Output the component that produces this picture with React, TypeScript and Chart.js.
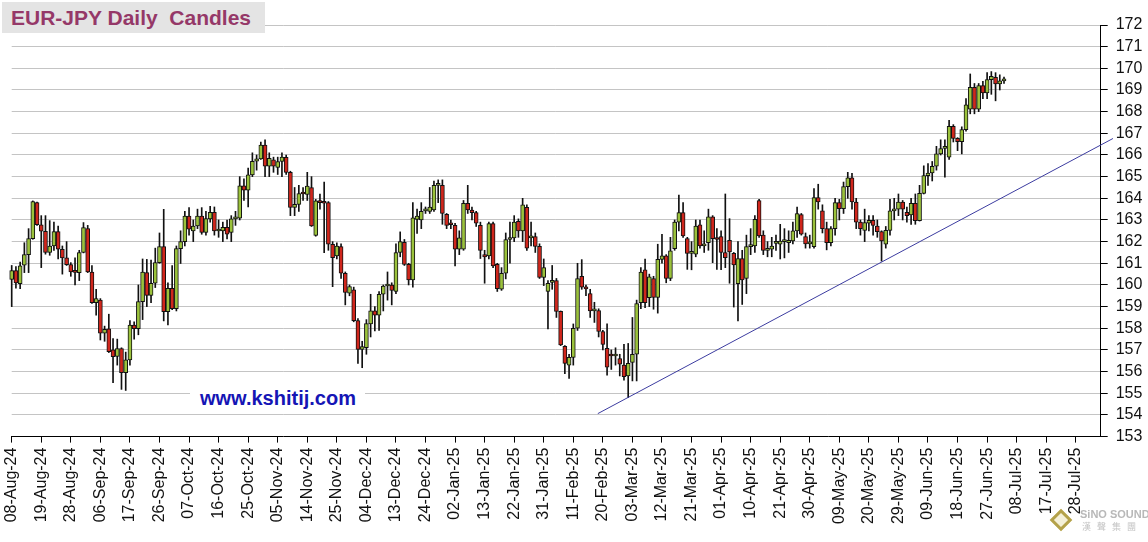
import React, { useEffect, useRef } from 'react';
import { Chart, registerables } from 'chart.js';
Chart.register(...registerables);

const tickLabels = ['08-Aug-24','19-Aug-24','28-Aug-24','06-Sep-24','17-Sep-24','26-Sep-24','07-Oct-24','16-Oct-24','25-Oct-24','05-Nov-24','14-Nov-24','25-Nov-24','04-Dec-24','13-Dec-24','24-Dec-24','02-Jan-25','13-Jan-25','22-Jan-25','31-Jan-25','11-Feb-25','20-Feb-25','03-Mar-25','12-Mar-25','21-Mar-25','01-Apr-25','10-Apr-25','21-Apr-25','30-Apr-25','09-May-25','20-May-25','29-May-25','09-Jun-25','18-Jun-25','27-Jun-25','08-Jul-25','17-Jul-25','28-Jul-25'];

const opens = [
160.26,160.66,160.06,160.91,161.4,162.14,163.8,162.78,162.48,161.5,
161.8,162.46,161.65,161.25,160.94,160.6,160.57,161.5,162.6,160.6,
159.18,159.3,157.77,157.98,157.0,156.7,157.06,155.95,156.54,158.15,
157.98,159.23,160.57,159.52,160.08,161.03,161.77,158.77,159.85,158.9,
161.68,162.0,163.18,162.5,162.72,163.18,162.42,163.05,163.35,162.49,
162.49,162.66,162.43,163.05,163.08,164.58,164.38,165.08,165.71,165.82,
166.46,165.48,165.78,165.43,165.7,165.89,165.2,163.58,163.72,164.22,
164.18,164.49,162.29,163.88,163.8,163.8,161.88,161.34,161.77,160.54,
159.62,159.77,158.35,157.03,157.1,158.2,158.8,158.6,159.57,159.95,
160.0,159.7,161.5,161.97,160.95,160.23,163.03,163.0,163.42,163.4,
163.46,164.6,164.6,163.26,162.8,162.75,161.65,161.65,163.77,163.46,
163.34,162.75,161.4,161.34,162.83,160.95,159.8,160.54,162.1,162.17,
162.94,162.5,163.58,162.17,162.23,161.78,160.35,159.7,160.12,160.2,
158.78,157.17,156.3,156.66,158.0,160.4,159.9,159.6,158.8,158.82,
157.85,157.08,156.77,156.72,156.6,156.3,155.8,156.42,156.8,159.18,
160.7,159.41,160.3,159.42,161.18,161.34,160.3,161.68,162.9,163.34,
162.14,161.46,161.42,162.77,161.8,161.95,163.15,162.14,162.23,161.5,
162.06,161.46,160.06,161.22,160.3,161.77,161.8,163.9,162.3,161.6,
161.65,161.92,161.88,162.0,161.95,162.03,162.5,163.25,162.23,161.9,
161.77,164.03,163.42,162.6,161.95,162.6,163.8,163.52,164.54,164.95,
163.83,162.9,162.52,162.85,162.98,162.72,162.46,161.88,162.52,163.42,
163.5,163.83,163.35,163.23,163.77,162.97,164.23,165.05,165.17,165.48,
166.05,166.3,165.9,167.32,166.77,166.62,167.17,168.12,169.12,168.12,
169.2,168.86,169.48,169.58,169.28,169.42];

const highs = [
160.9,160.85,161.06,161.95,162.6,163.88,163.83,163.2,163.2,162.97,
162.9,162.72,161.8,162.0,161.03,161.25,161.6,162.88,162.75,160.9,
159.8,159.37,158.1,158.65,157.52,157.5,157.1,156.9,158.35,158.3,
160.0,161.2,161.18,161.15,161.7,162.4,163.49,160.1,160.9,161.8,
162.5,163.4,163.57,163.0,163.5,163.57,163.4,163.63,163.6,163.0,
162.9,163.0,163.2,163.4,165.0,164.9,165.4,166.1,166.0,166.6,
166.7,166.1,165.9,165.9,166.1,166.0,165.25,164.5,164.6,164.5,
165.2,165.0,163.95,164.2,164.75,163.85,162.0,161.95,161.9,160.6,
160.0,159.9,158.45,157.4,158.4,159.57,159.0,159.7,160.0,160.6,
160.1,161.9,162.45,162.1,161.0,163.8,163.5,163.8,163.6,164.5,
164.8,164.85,164.85,163.3,163.0,162.85,162.5,163.9,164.6,163.6,
163.4,162.9,161.6,162.9,162.9,161.0,160.8,162.4,162.9,163.2,
163.05,164.0,163.7,162.9,162.4,161.9,161.2,160.2,160.9,160.3,
158.8,157.2,156.8,158.2,161.0,161.17,160.0,159.8,159.2,158.9,
157.9,158.2,157.0,157.1,156.8,157.26,157.3,158.5,159.3,160.8,
161.2,160.5,160.4,161.88,162.34,161.4,162.2,163.0,164.15,163.8,
162.2,162.0,163.0,163.0,162.5,163.5,163.2,162.6,162.5,164.2,
163.06,161.5,162.0,161.6,162.3,162.6,163.2,163.95,162.5,162.0,
162.2,162.3,162.8,162.6,162.5,162.9,163.6,163.3,162.4,162.3,
164.45,164.65,163.7,162.9,162.7,164.0,163.95,164.75,165.2,165.15,
164.0,163.0,163.5,163.2,163.2,163.0,162.5,162.7,163.95,164.0,
164.2,163.9,163.6,164.0,164.2,164.6,165.5,165.6,165.7,166.4,
166.7,166.7,167.6,167.4,166.8,167.3,168.6,169.74,169.3,169.3,
169.4,169.8,169.85,169.8,169.7,169.6];

const lows = [
159.0,159.85,159.83,160.57,160.57,162.11,162.75,160.8,161.42,161.37,
161.6,161.2,160.5,160.9,160.4,160.0,160.2,161.48,160.57,159.15,
158.6,157.46,157.4,156.88,155.49,156.3,155.18,155.13,156.3,157.5,
157.7,158.4,159.0,159.18,159.88,161.0,158.34,158.15,158.86,158.8,
160.99,161.8,162.3,162.0,162.6,162.34,162.3,162.9,162.3,162.2,
162.0,162.12,162.0,162.75,163.0,163.9,163.6,165.0,165.3,165.8,
165.0,165.0,165.2,165.1,165.0,165.1,163.2,163.2,163.4,163.9,
163.9,162.7,162.25,163.5,161.49,161.6,159.92,161.2,160.3,159.08,
159.5,158.3,156.38,156.18,156.8,157.6,157.88,157.9,158.8,159.3,
159.08,159.6,161.3,160.9,160.0,159.9,162.38,162.6,163.3,163.3,
163.4,163.8,162.8,162.6,162.6,160.88,161.4,161.6,163.3,163.0,
162.7,161.22,160.08,161.2,160.8,159.7,159.75,160.28,161.0,162.0,
162.2,162.0,161.6,161.8,161.5,160.3,159.97,157.97,159.8,158.5,
157.2,155.9,155.69,156.3,157.9,159.8,159.5,158.5,158.27,157.6,
157.0,155.83,156.1,156.3,155.8,155.6,154.8,155.57,155.57,158.9,
158.95,159.0,158.88,158.7,161.0,160.1,160.2,161.6,162.5,162.2,
160.72,160.7,161.3,161.7,161.5,161.6,161.03,160.72,160.7,160.8,
160.08,158.98,158.34,159.1,159.6,161.4,161.5,162.2,161.4,161.3,
161.3,161.6,161.2,161.25,161.5,161.9,162.2,162.3,161.7,161.7,
161.7,163.5,162.4,161.62,161.8,162.3,163.0,163.3,164.0,163.5,
162.6,162.3,162.0,162.5,162.3,162.2,161.1,161.7,162.3,163.0,
163.2,163.0,162.9,162.8,162.8,162.95,164.2,164.6,164.8,165.3,
166.0,164.97,165.8,166.6,166.2,166.05,167.1,167.9,167.9,168.0,
168.6,168.6,168.8,168.5,169.0,169.3];

const closes = [
160.66,160.09,160.88,161.4,162.14,163.85,162.78,162.48,161.5,161.8,
162.46,161.65,161.25,160.94,160.6,160.58,161.5,162.65,160.6,159.18,
159.37,157.77,157.95,156.92,156.69,157.06,155.95,156.54,158.15,157.98,
159.23,160.6,159.52,160.08,161.03,161.77,158.77,159.85,158.9,161.68,
162.0,163.18,162.57,162.72,163.18,162.42,163.06,163.35,162.49,162.55,
162.66,162.35,163.05,163.08,164.58,164.38,165.08,165.71,165.82,166.46,
165.48,165.85,165.48,165.7,165.9,165.2,163.58,163.72,164.22,164.2,
164.57,162.72,163.88,163.8,163.77,161.88,161.26,161.8,160.54,159.65,
159.92,158.35,157.03,157.15,158.22,158.8,158.6,159.57,159.95,160.0,
159.75,161.5,162.0,160.95,160.23,163.1,163.18,163.4,163.5,163.6,
164.6,164.65,163.3,162.75,162.78,161.65,162.17,163.77,163.46,163.34,
162.85,161.6,161.3,162.83,160.88,159.83,160.54,162.1,162.17,162.9,
162.5,163.7,161.7,162.23,161.78,160.35,160.8,160.08,160.17,158.78,
157.23,156.38,156.66,158.0,160.3,159.9,159.82,158.8,158.85,157.85,
157.25,156.2,156.72,156.8,156.34,155.77,156.38,156.8,159.14,160.6,
159.18,160.37,159.42,161.18,161.34,160.3,161.57,162.9,163.34,162.26,
161.46,161.5,162.72,161.8,161.9,163.15,162.14,162.1,161.5,161.26,
161.52,160.92,161.22,160.23,161.77,161.8,163.03,162.26,161.6,161.65,
161.8,161.98,162.03,162.03,162.06,162.5,163.3,162.35,161.9,161.95,
164.03,163.83,162.6,161.95,162.6,163.8,163.52,164.54,164.95,163.83,
162.9,162.6,162.88,162.98,162.75,162.46,162.03,162.52,163.42,163.5,
163.83,163.5,163.2,163.77,162.97,164.23,165.05,165.17,165.48,166.05,
166.3,166.4,167.32,166.77,166.62,167.17,168.32,169.12,168.12,169.2,
168.86,169.48,169.63,169.28,169.42,169.45];

const trendX = [138.8, 260.8];
const trendY = [154.06, 166.76];

const GREEN = '#9bc23c';
const RED = '#d0261c';
const FONT = '"Liberation Sans", Arial, sans-serif';

export default function App() {
  const ref = useRef<HTMLCanvasElement>(null);
  useEffect(() => {
    const canvas = ref.current;
    if (!canvas) return;
    const up = closes.map((c, i) => c >= opens[i]);
    const bodies = closes.map((c, i) => ({ x: i, y: [Math.min(opens[i], c), Math.max(opens[i], c)] }));
    const wicks = highs.map((h, i) => ({ x: i, y: [lows[i], h] }));
    const chart = new Chart(canvas, {
      type: 'bar',
      data: {
        datasets: [
          {
            type: 'bar',
            data: bodies as any,
            backgroundColor: up.map((u) => (u ? GREEN : RED)),
            borderColor: '#111',
            borderWidth: 1,
            borderSkipped: false,
            barThickness: 4,
            minBarLength: 2,
            grouped: false,
            clip: false,
            order: 0,
          } as any,
          {
            type: 'bar',
            data: wicks as any,
            backgroundColor: '#111',
            barThickness: 1,
            grouped: false,
            clip: false,
            order: 1,
          } as any,
          {
            type: 'line',
            data: trendX.map((x, k) => ({ x, y: trendY[k] })),
            borderColor: '#3c3ca0',
            borderWidth: 1,
            pointRadius: 0,
            clip: false,
            order: -1,
          } as any,
        ],
      },
      options: {
        animation: false,
        responsive: false,
        devicePixelRatio: 1,
        layout: { padding: { left: 11.7, top: 25, right: 0, bottom: 0 } },
        plugins: { legend: { display: false }, tooltip: { enabled: false }, title: { display: false } },
        scales: {
          x: {
            type: 'linear',
            min: 0,
            max: 257.9,
            offset: false,
            afterBuildTicks: (s: any) => {
              s.ticks = tickLabels.map((_, k) => ({ value: k * 7 }));
            },
            afterFit: (s: any) => {
              s.height = 105.4;
            },
            grid: { display: true, drawOnChartArea: false, drawTicks: true, tickLength: 6, tickColor: '#000', offset: false },
            border: { display: true, color: '#000', width: 1 },
            ticks: {
              autoSkip: false,
              minRotation: 90,
              maxRotation: 90,
              padding: 5,
              color: '#111',
              font: { family: FONT, size: 16 },
              callback: (v: any) => tickLabels[Math.round(Number(v) / 7)] ?? '',
            },
          },
          y: {
            position: 'right',
            min: 153,
            max: 172,
            afterFit: (s: any) => {
              s.width = 47.3;
            },
            ticks: { stepSize: 1, autoSkip: false, color: '#111', padding: 8, font: { family: FONT, size: 16 } },
            grid: { color: '#c4c4c4', tickColor: '#000', tickLength: 7, lineWidth: 1 },
            border: { display: true, color: '#000', width: 1 },
          },
        },
      } as any,
    });
    return () => chart.destroy();
  }, []);

  return (
    <div style={{ position: 'absolute', left: 0, top: 0, width: 1148, height: 542, background: '#fff', overflow: 'hidden' }}>
      <canvas ref={ref} width={1148} height={542} style={{ position: 'absolute', left: 0, top: 0, width: 1148, height: 542 }} />
      <div
        style={{
          position: 'absolute', left: 2, top: 2, width: 263, height: 31, background: '#e4e4e4',
          fontFamily: FONT, fontWeight: 'bold', fontSize: 21, lineHeight: '31px', color: '#953868',
          paddingLeft: 9, boxSizing: 'border-box', whiteSpace: 'pre',
        }}
      >
        {'EUR-JPY Daily  Candles'}
      </div>
      <div
        style={{
          position: 'absolute', left: 190, top: 385, width: 175, height: 27, background: '#fff',
          fontFamily: FONT, fontWeight: 'bold', fontSize: 20, lineHeight: '27px', color: '#1515b5',
          paddingLeft: 10, boxSizing: 'border-box', whiteSpace: 'pre',
        }}
      >
        www.kshitij.com
      </div>
      <div
        style={{
          position: 'absolute', left: 1053, top: 512, width: 16, height: 16, transform: 'rotate(45deg)',
          border: '3px solid #b4a24a', background: '#f4f0d8', boxSizing: 'border-box',
        }}
      />
      <div
        style={{
          position: 'absolute', left: 1080, top: 508, fontFamily: FONT, fontWeight: 'bold', fontSize: 11,
          color: '#b8b8b8', lineHeight: '13px', whiteSpace: 'pre',
        }}
      >
        SiNO SOUND
      </div>
      <div
        style={{
          position: 'absolute', left: 1082, top: 521, fontFamily: '"Noto Sans CJK TC", sans-serif', fontSize: 9,
          color: '#c4c4c4', lineHeight: '11px', letterSpacing: 6, whiteSpace: 'pre',
        }}
      >
        漢聲集團
      </div>
    </div>
  );
}
